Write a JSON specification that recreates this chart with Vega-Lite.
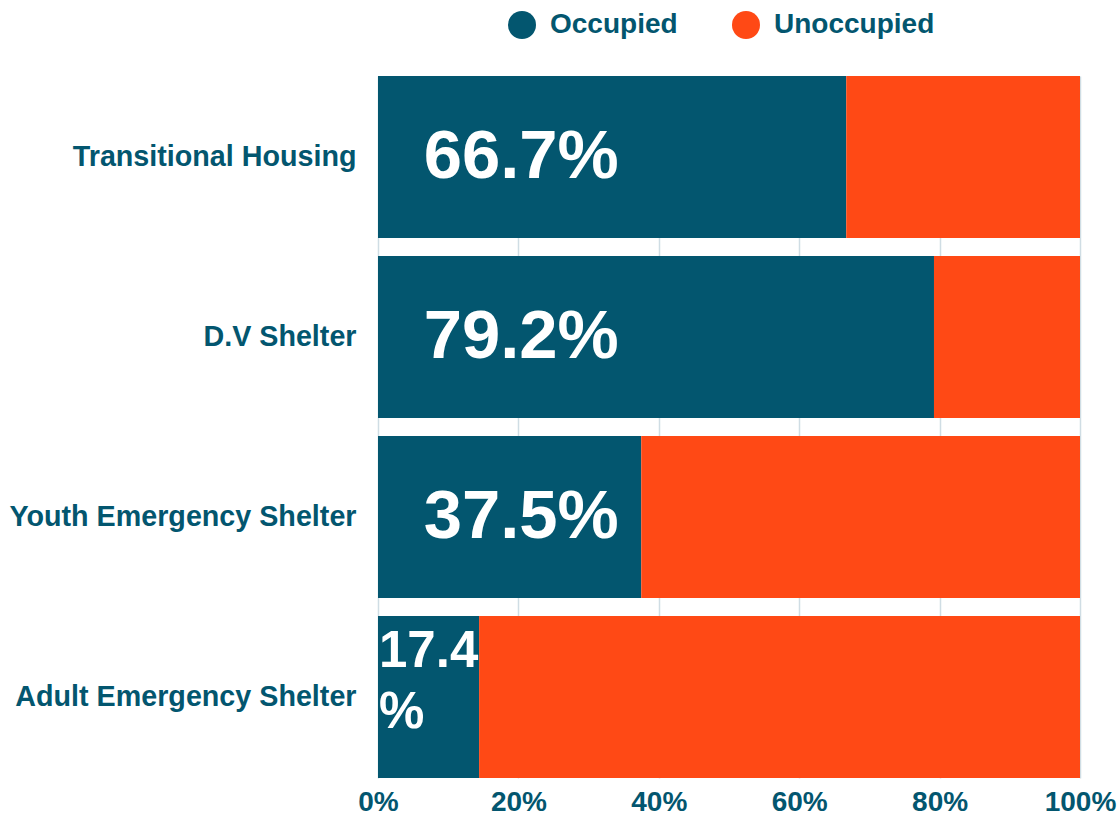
{
  "$schema": "https://vega.github.io/schema/vega-lite/v6.json",
  "autosize": {"type": "none"},
  "padding": {"left": 378, "top": 76, "right": 40, "bottom": 39},
  "width": 702,
  "height": 702,
  "background": "white",
  "data": {
    "values": [
      {"category": "Transitional Housing", "status": "Occupied", "value": 66.7, "label": "66.7%"},
      {"category": "Transitional Housing", "status": "Unoccupied", "value": 33.3, "label": ""},
      {"category": "D.V Shelter", "status": "Occupied", "value": 79.2, "label": "79.2%"},
      {"category": "D.V Shelter", "status": "Unoccupied", "value": 20.8, "label": ""},
      {"category": "Youth Emergency Shelter", "status": "Occupied", "value": 37.5, "label": "37.5%"},
      {"category": "Youth Emergency Shelter", "status": "Unoccupied", "value": 62.5, "label": ""},
      {"category": "Adult Emergency Shelter", "status": "Occupied", "value": 14.4, "label": "17.4\n%"},
      {"category": "Adult Emergency Shelter", "status": "Unoccupied", "value": 85.6, "label": ""}
    ]
  },
  "encoding": {
    "y": {
      "field": "category",
      "type": "nominal",
      "sort": ["Transitional Housing", "D.V Shelter", "Youth Emergency Shelter", "Adult Emergency Shelter"],
      "scale": {"paddingInner": 0.1, "paddingOuter": 0},
      "axis": {
        "title": null,
        "domain": false,
        "ticks": false,
        "labelPadding": 22,
        "labelFont": "Liberation Sans",
        "labelFontWeight": "bold",
        "labelFontSize": 28.7,
        "labelColor": "#03566f",
        "labelLimit": 500
      }
    }
  },
  "layer": [
    {
      "mark": {"type": "bar"},
      "encoding": {
        "x": {
          "field": "value",
          "type": "quantitative",
          "stack": "zero",
          "scale": {"domain": [0, 100], "nice": false},
          "axis": {
            "title": null,
            "values": [0, 20, 40, 60, 80, 100],
            "labelExpr": "datum.value + '%'",
            "domain": false,
            "ticks": false,
            "grid": true,
            "gridColor": "#cfdde4",
            "gridWidth": 1.5,
            "labelPadding": 10,
            "labelFont": "Liberation Sans",
            "labelFontWeight": "bold",
            "labelFontSize": 28,
            "labelColor": "#03566f",
            "labelFlush": false
          }
        },
        "color": {
          "field": "status",
          "type": "nominal",
          "scale": {"domain": ["Occupied", "Unoccupied"], "range": ["#03566f", "#ff4915"]},
          "legend": {
            "title": null,
            "orient": "none",
            "direction": "horizontal",
            "legendX": 130,
            "legendY": -65,
            "symbolType": "circle",
            "symbolSize": 784,
            "symbolStrokeWidth": 0,
            "symbolOpacity": 1,
            "labelOffset": 14,
            "columnPadding": 54,
            "labelLimit": 400,
            "labelFont": "Liberation Sans",
            "labelFontWeight": "bold",
            "labelFontSize": 28,
            "labelColor": "#03566f"
          }
        }
      }
    },
    {
      "transform": [
        {"filter": "datum.status == 'Occupied' && datum.category != 'Adult Emergency Shelter'"}
      ],
      "mark": {
        "type": "text",
        "font": "Liberation Sans",
        "fontWeight": "bold",
        "fontSize": 68.8,
        "color": "white",
        "align": "center",
        "baseline": "middle"
      },
      "encoding": {
        "x": {"datum": 20.4},
        "text": {"field": "label"}
      }
    },
    {
      "transform": [
        {"filter": "datum.status == 'Occupied' && datum.category == 'Adult Emergency Shelter'"}
      ],
      "mark": {
        "type": "text",
        "font": "Liberation Sans",
        "fontWeight": "bold",
        "fontSize": 51,
        "lineHeight": 61,
        "lineBreak": "\n",
        "color": "white",
        "align": "left",
        "baseline": "middle",
        "dx": 1,
        "dy": -45
      },
      "encoding": {
        "x": {"datum": 0},
        "text": {"field": "label"}
      }
    }
  ],
  "config": {
    "view": {"stroke": null}
  }
}
